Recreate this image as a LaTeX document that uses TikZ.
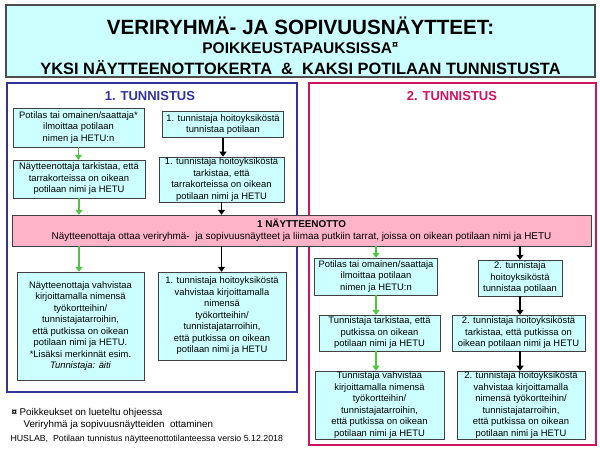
\documentclass[tikz,border=0pt]{standalone}
\usepackage{fontspec}
\setmainfont{Liberation Sans}
\usetikzlibrary{arrows.meta,calc}
\definecolor{cyanfill}{HTML}{CCFFFF}
\definecolor{pinkfill}{HTML}{FFB3C9}
\definecolor{tblue}{HTML}{333399}
\definecolor{tred}{HTML}{CC1461}
\definecolor{agreen}{HTML}{4CC83C}
\tikzset{okgo/.style={-{Triangle[length=5pt,width=7pt]}, line width=1.6pt, draw=agreen},
  pin/.style={-{Triangle[length=5pt,width=7pt]}, line width=1.6pt, draw=black},
  blk/.style={draw=black!75, fill=cyanfill, align=center, inner sep=1pt, font=\fontsize{9.4}{11.5}\selectfont}}

\begin{document}
\begin{tikzpicture}[x=1pt, y=-1pt]
  \useasboundingbox (0,0) rectangle (600,450);
  % otsikko
  \node[draw=black!70, line width=1.2pt, fill=cyanfill, minimum width=589pt, minimum height=72pt] (ttl) at (300.5,41) {};
  \node[font=\bfseries\fontsize{20.6}{22}\selectfont] (t1) at (300.5,26) {VERIRYHMÄ- JA SOPIVUUSNÄYTTEET:};
  \node[font=\bfseries\fontsize{15.5}{17}\selectfont] (t2) at (300.5,48) {POIKKEUSTAPAUKSISSA\textsuperscript{¤}};
  \node[font=\bfseries\fontsize{16.4}{18}\selectfont] (t3) at (300.5,68) {YKSI NÄYTTEENOTTOKERTA\ \ \&\ \ KAKSI POTILAAN TUNNISTUSTA};
  % kehykset
  \draw[tblue, line width=1.6pt] (7,83) rectangle (297,392);
  \draw[tred, line width=1.6pt] (309,83) rectangle (596,445);
  \node[font=\bfseries\fontsize{13}{15}\selectfont, text=tblue] (h1) at (150,96) {1. TUNNISTUS};
  \node[font=\bfseries\fontsize{13}{15}\selectfont, text=tred] (h2) at (452,96) {2. TUNNISTUS};
  % 1. tunnistus
  \node[blk, minimum width=131pt, minimum height=39pt] (l1) at (78.5,127.5) {Potilas tai omainen/saattaja*\\ilmoittaa potilaan\\nimen ja HETU:n};
  \node[blk, minimum width=121pt, minimum height=26pt] (r1) at (223,124.5) {1. tunnistaja hoitoyksiköstä\\tunnistaa potilaan};
  \node[blk, minimum width=132pt, minimum height=38pt] (l2) at (79,179) {Näytteenottaja tarkistaa, että\\tarrakorteissa on oikean\\potilaan nimi ja HETU};
  \node[blk, minimum width=125pt, minimum height=45pt] (r2) at (221.5,179.5) {1. tunnistaja hoitoyksiköstä\\tarkistaa, että\\tarrakorteissa on oikean\\potilaan nimi ja HETU};
  % näytteenotto
  \node[draw=black!75, fill=pinkfill, align=center, minimum width=579pt, minimum height=31pt, inner sep=1pt, font=\fontsize{9.9}{12.5}\selectfont] (bar) at (301.5,230.5)
    {\textbf{1 NÄYTTEENOTTO}\\Näytteenottaja ottaa veriryhmä-\ \ ja sopivuusnäytteet ja liimaa putkiin tarrat, joissa on oikean potilaan nimi ja HETU};
  \node[blk, minimum width=127pt, minimum height=108pt] (l3) at (80.5,326) {Näytteenottaja vahvistaa\\kirjoittamalla nimensä\\työkortteihin/\\tunnistajatarroihin,\\että putkissa on oikean\\potilaan nimi ja HETU.\\*Lisäksi merkinnät esim.\\\textit{Tunnistaja: äiti}};
  \node[blk, minimum width=128pt, minimum height=88pt] (r3) at (222,316) {1. tunnistaja hoitoyksiköstä\\vahvistaa kirjoittamalla\\nimensä\\työkortteihin/\\tunnistajatarroihin,\\että putkissa on oikean\\potilaan nimi ja HETU};
  % 2. tunnistus
  \node[blk, minimum width=123pt, minimum height=37pt] (rl1) at (376,276.5) {Potilas tai omainen/saattaja\\ilmoittaa potilaan\\nimen ja HETU:n};
  \node[blk, minimum width=84pt, minimum height=36pt] (rr1) at (520,278) {2. tunnistaja\\hoitoyksiköstä\\tunnistaa potilaan};
  \node[blk, minimum width=121pt, minimum height=36pt] (rl2) at (379.5,333) {Tunnistaja tarkistaa, että\\putkissa on oikean\\potilaan nimi ja HETU};
  \node[blk, minimum width=133pt, minimum height=36pt] (rr2) at (518.5,333) {2. tunnistaja hoitoyksiköstä\\tarkistaa, että putkissa on\\oikean potilaan nimi ja HETU};
  \node[blk, minimum width=129pt, minimum height=68pt] (rl3) at (379.5,405) {Tunnistaja vahvistaa\\kirjoittamalla nimensä\\työkortteihin/\\tunnistajatarroihin,\\että putkissa on oikean\\potilaan nimi ja HETU};
  \node[blk, minimum width=128pt, minimum height=68pt] (rr3) at (521,405) {2. tunnistaja hoitoyksiköstä\\vahvistaa kirjoittamalla\\nimensä työkortteihin/\\tunnistajatarroihin,\\että putkissa on oikean\\potilaan nimi ja HETU};
  % nuolet
  \draw[okgo] (l1.south) -- (l1.south |- l2.north);
  \draw[pin] (r1.south) -- (r1.south |- r2.north);
  \draw[okgo] (l2.south) -- (l2.south |- bar.north);
  \draw[pin] (r2.south) -- (r2.south |- bar.north);
  \draw[okgo] (bar.south -| l2) -- (l3.north -| l2);
  \draw[pin] (bar.south -| r2) -- (r3.north -| r2);
  \draw[okgo] (bar.south -| rl1) -- (rl1.north);
  \draw[pin] (bar.south -| rr1) -- (rr1.north);
  \draw[okgo] (rl1.south) -- (rl1.south |- rl2.north);
  \draw[okgo] (rl1.south |- rl2.south) -- (rl1.south |- rl3.north);
  \draw[pin] (rr1.south) -- (rr1.south |- rr2.north);
  \draw[pin] (rr1.south |- rr2.south) -- (rr1.south |- rr3.north);
  % alaviitteet
  \node[anchor=west, font=\fontsize{9.8}{11}\selectfont] (f1) at (8,413) {\textbf{¤} Poikkeukset on lueteltu ohjeessa};
  \node[anchor=west, font=\fontsize{9.8}{11}\selectfont] (f2) at (20,424.5) {Veriryhmä ja sopivuusnäytteiden\ \ ottaminen};
  \node[anchor=west, font=\fontsize{8.8}{10}\selectfont] (f3) at (7,439) {HUSLAB,\ \ Potilaan tunnistus näytteenottotilanteessa versio 5.12.2018};
\end{tikzpicture}
\end{document}
